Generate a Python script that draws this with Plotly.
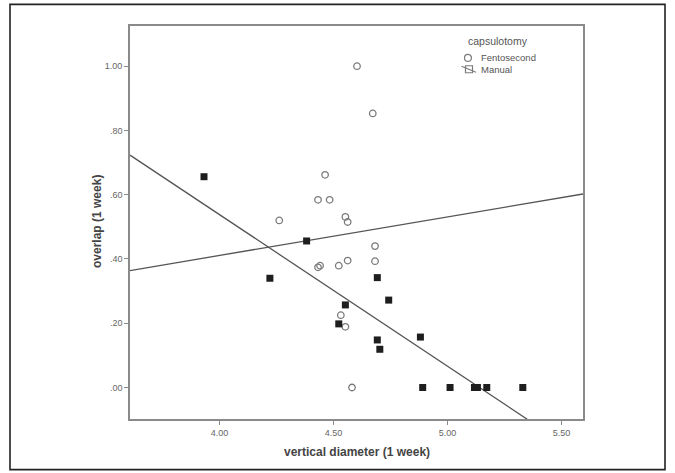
import plotly.graph_objects as go
import numpy as np

# ---- data ----
femto_x = [4.603, 4.672, 4.463, 4.432, 4.483, 4.262, 4.552, 4.562, 4.682, 4.682,
           4.562, 4.523, 4.432, 4.441, 4.532, 4.552, 4.581]
femto_y = [1.000, 0.853, 0.662, 0.584, 0.584, 0.520, 0.531, 0.515, 0.440, 0.393,
           0.395, 0.379, 0.374, 0.379, 0.225, 0.189, 0.000]
manual_x = [3.932, 4.221, 4.382, 4.692, 4.742, 4.552, 4.523, 4.692, 4.703, 4.881,
            4.891, 5.011, 5.118, 5.131, 5.172, 5.330]
manual_y = [0.656, 0.340, 0.456, 0.342, 0.272, 0.257, 0.198, 0.148, 0.119, 0.157,
            0.000, 0.000, 0.000, 0.000, 0.000, 0.000]
# fit lines: value at x=4.00 and slope
fit_femto = [0.411, 0.120]
fit_manual = [0.538, -0.472]

x_ticks = [4.0, 4.5, 5.0, 5.5]
x_ticktext = ["4.00", "4.50", "5.00", "5.50"]
y_ticks = [0.0, 0.2, 0.4, 0.6, 0.8, 1.0]
y_ticktext = [".00", ".20", ".40", ".60", ".80", "1.00"]
x_range = [3.6075, 5.594]
y_range = [-0.098, 1.125]

FONT = "Liberation Sans, Arial, sans-serif"

# plot area in pixels
L, R, T, B = 130, 583, 25.7, 419.3
W, H = 675, 473


def px(x):
    return (x - L) / (R - L)


def py(y):
    return (B - y) / (B - T)


fig = go.Figure()

xl = np.array(x_range)
fig.add_trace(go.Scatter(x=xl, y=fit_femto[0] + fit_femto[1] * (xl - 4.0), mode="lines",
                         line=dict(color="#555555", width=1.3), showlegend=False,
                         hoverinfo="skip"))
fig.add_trace(go.Scatter(x=xl, y=fit_manual[0] + fit_manual[1] * (xl - 4.0), mode="lines",
                         line=dict(color="#555555", width=1.3), showlegend=False,
                         hoverinfo="skip"))
fig.add_trace(go.Scatter(x=femto_x, y=femto_y, mode="markers", name="Fentosecond",
                         marker=dict(symbol="circle-open", size=6.5, color="#7a7a7a",
                                     line=dict(width=1.3, color="#7a7a7a")),
                         showlegend=False, cliponaxis=False))
fig.add_trace(go.Scatter(x=manual_x, y=manual_y, mode="markers", name="Manual",
                         marker=dict(symbol="square", size=7, color="#1e1e1e",
                                     line=dict(width=0)),
                         showlegend=False, cliponaxis=False))

shapes = [
    # outer border
    dict(type="rect", xref="paper", yref="paper", x0=px(10), x1=px(665), y0=py(470), y1=py(4),
         line=dict(color="#222222", width=1.6), layer="below"),
    # legend: circle
    dict(type="circle", xref="paper", yref="paper", x0=px(464.5), x1=px(471.5),
         y0=py(61.2), y1=py(54.2), line=dict(color="#7a7a7a", width=1.2)),
    # legend: manual icon (square + line)
    dict(type="rect", xref="paper", yref="paper", x0=px(465.5), x1=px(472.5),
         y0=py(72.5), y1=py(65.5), line=dict(color="#7a7a7a", width=1.2)),
    dict(type="line", xref="paper", yref="paper", x0=px(461.5), x1=px(476),
         y0=py(66), y1=py(72), line=dict(color="#7a7a7a", width=1.1)),
]

annotations = [
    dict(text="capsulotomy", x=px(497.5), y=py(40.7), xref="paper", yref="paper",
         showarrow=False, xanchor="center", yanchor="middle",
         font=dict(family=FONT, size=10.5, color="#555555")),
    dict(text="Fentosecond", x=px(478.5), y=py(57.7), xref="paper", yref="paper",
         showarrow=False, xanchor="left", yanchor="middle",
         font=dict(family=FONT, size=9.5, color="#555555")),
    dict(text="Manual", x=px(478.5), y=py(69), xref="paper", yref="paper",
         showarrow=False, xanchor="left", yanchor="middle",
         font=dict(family=FONT, size=9.5, color="#555555")),
    dict(text="<b>vertical diameter (1 week)</b>", x=0.5, y=py(452.7), xref="paper", yref="paper",
         showarrow=False, xanchor="center", yanchor="middle",
         font=dict(family=FONT, size=12, color="#444444")),
    dict(text="<b>overlap (1 week)</b>", x=px(97), y=py(222), xref="paper", yref="paper",
         showarrow=False, xanchor="center", yanchor="middle", textangle=-90,
         font=dict(family=FONT, size=12, color="#444444")),
]

fig.update_layout(
    width=W, height=H,
    margin=dict(l=L, r=W - R, t=T, b=H - B, pad=0),
    paper_bgcolor="white", plot_bgcolor="white",
    shapes=shapes, annotations=annotations,
    showlegend=False,
    xaxis=dict(range=x_range, tickmode="array", tickvals=x_ticks, ticktext=x_ticktext,
               showgrid=False, zeroline=False, showline=True, mirror=True,
               linecolor="#8a8a8a", linewidth=1.6, ticks="outside", ticklen=4,
               tickcolor="#8a8a8a", tickwidth=1.2,
               tickfont=dict(family=FONT, size=9, color="#666666")),
    yaxis=dict(range=y_range, tickmode="array", tickvals=y_ticks, ticktext=y_ticktext,
               showgrid=False, zeroline=False, showline=True, mirror=True,
               linecolor="#8a8a8a", linewidth=1.6, ticks="outside", ticklen=4,
               tickcolor="#8a8a8a", tickwidth=1.2,
               tickfont=dict(family=FONT, size=9, color="#666666")),
)

fig.write_html("out.html")
